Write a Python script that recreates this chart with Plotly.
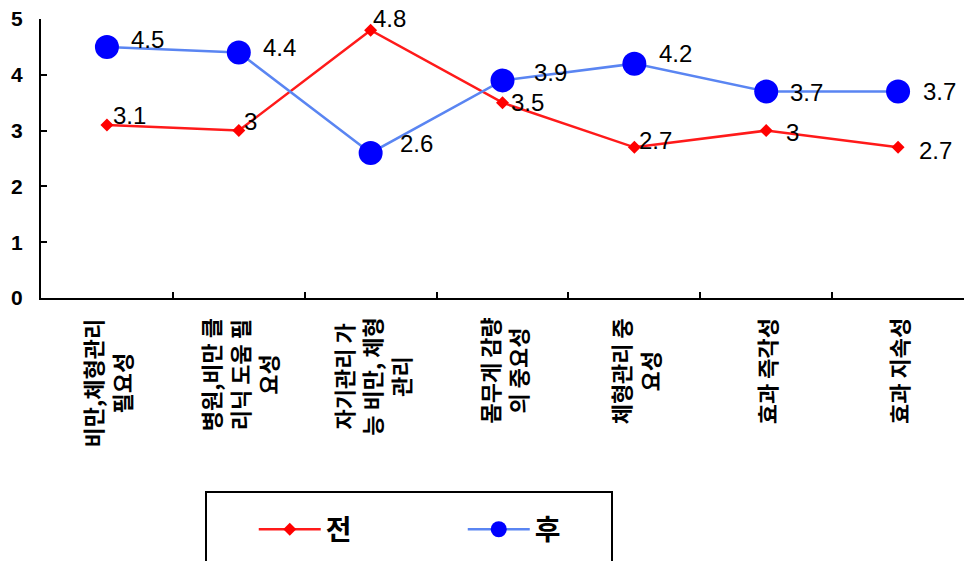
import plotly.graph_objects as go

# ---- data ----
categories = ["c1", "c2", "c3", "c4", "c5", "c6", "c7"]
tick_labels = [
    "비만,체형관리<br>필요성",
    "병원,비만 클<br>리닉 도움 필<br>요성",
    "자기관리 가<br>능 비만, 체형<br>관리",
    "몸무게 감량<br>의 중요성",
    "체형관리 중<br>요성",
    "효과 즉각성",
    "효과 지속성",
]
before_name = "전"
after_name = "후"
before_vals = [3.1, 3, 4.8, 3.5, 2.7, 3, 2.7]
after_vals = [4.5, 4.4, 2.6, 3.9, 4.2, 3.7, 3.7]

# ---- label offsets (style only) ----
before_dx = [4, 3, 0, 6, 3, 18, 19]
before_dy = [10, 9, 12, 0, 7, -2, -3]
after_dx = [22, 22, 27, 29, 23, 22, 23]
after_dy = [7, 5, 9, 8, 10, -1, 0]

RED = "#ff1a1a"
BLUE = "#5a85f2"
KFONT = "Noto Sans CJK KR"
NFONT = "Liberation Sans, Arial, sans-serif"

fig = go.Figure()
fig.add_trace(go.Scatter(
    x=categories, y=before_vals, name=before_name, mode="lines+markers",
    line=dict(color=RED, width=2.5),
    marker=dict(symbol="diamond", size=10, color="#ff0000"),
))
fig.add_trace(go.Scatter(
    x=categories, y=after_vals, name=after_name, mode="lines+markers",
    line=dict(color=BLUE, width=2.5),
    marker=dict(symbol="circle", size=24, color="#0000ff"),
))

annotations = []
for c, v, dx, dy in zip(categories, before_vals, before_dx, before_dy):
    annotations.append(dict(x=c, y=v, xref="x", yref="y", text=f"{v:g}",
                            showarrow=False, xanchor="left", yanchor="middle",
                            xshift=dx, yshift=dy,
                            font=dict(family=NFONT, size=24, color="black")))
for c, v, dx, dy in zip(categories, after_vals, after_dx, after_dy):
    annotations.append(dict(x=c, y=v, xref="x", yref="y", text=f"{v:g}",
                            showarrow=False, xanchor="left", yanchor="middle",
                            xshift=dx, yshift=dy,
                            font=dict(family=NFONT, size=24, color="black")))
for c, t in zip(categories, tick_labels):
    annotations.append(dict(x=c, y=0, xref="x", yref="paper", text=t,
                            showarrow=False, textangle=-90, align="center",
                            xanchor="center", yanchor="top", yshift=-18,
                            font=dict(family=KFONT, size=22, color="black",
                                      weight="bold")))

fig.update_layout(
    width=965, height=561,
    margin=dict(l=41, r=1, t=19, b=263),
    paper_bgcolor="white", plot_bgcolor="white",
    showlegend=True,
    legend=dict(orientation="h", x=0.2305, xanchor="left", y=-0.83,
                yanchor="middle", itemwidth=62, entrywidth=132,
                font=dict(family=KFONT, size=28, color="black", weight="bold"),
                bgcolor="rgba(0,0,0,0)", borderwidth=0),
    annotations=annotations,
    shapes=[dict(type="rect", xref="paper", yref="paper",
                 x0=(206 - 41) / 923, x1=(612 - 41) / 923,
                 y0=(298 - 492) / 279, y1=(298 - 600) / 279,
                 line=dict(color="black", width=2), fillcolor="rgba(0,0,0,0)")],
)
fig.update_xaxes(type="category", range=[-0.5, 6.5], showgrid=False,
                 showline=True, linecolor="black", linewidth=2,
                 ticks="inside", tickson="boundaries", ticklen=6,
                 tickwidth=1.5, tickcolor="black", showticklabels=False,
                 zeroline=False)
fig.update_yaxes(range=[0, 5], tickvals=[0, 1, 2, 3, 4, 5], showgrid=False,
                 showline=True, linecolor="black", linewidth=2,
                 ticks="inside", ticklen=6, tickwidth=1.5, tickcolor="black",
                 ticklabelstandoff=12, zeroline=False,
                 tickfont=dict(family=NFONT, size=21, color="black",
                               weight="bold"))

fig.write_html("out.html")
